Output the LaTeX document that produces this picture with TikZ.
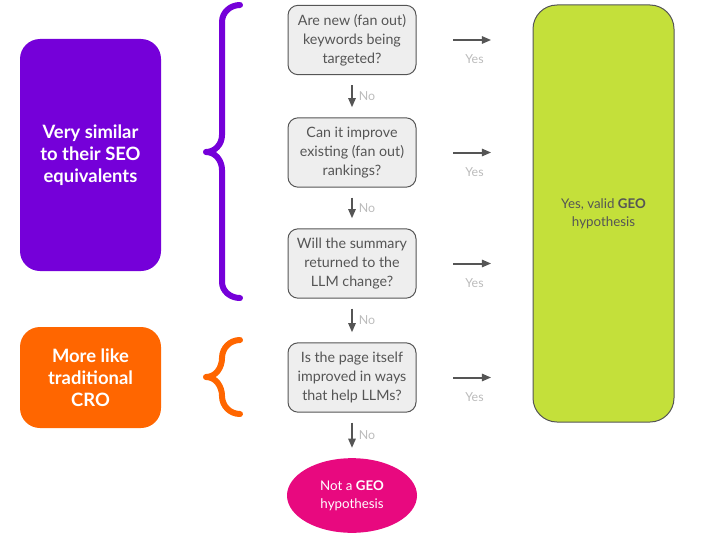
\documentclass[tikz,border=0pt]{standalone}
\usepackage{fontspec}
\setmainfont{Lato}
\usetikzlibrary{shapes.geometric,arrows.meta}

\definecolor{seopurple}{HTML}{7500D9}
\definecolor{croorange}{HTML}{FF6600}
\definecolor{geogreen}{HTML}{C4E03A}
\definecolor{notpink}{HTML}{E8097F}
\definecolor{qfill}{HTML}{EEEEEE}
\definecolor{txtgray}{HTML}{555555}
\definecolor{lblgray}{HTML}{BBBBBB}

\tikzset{
  question/.style={draw=txtgray, fill=qfill, line width=0.75pt, rounded corners=7.5pt,
    minimum width=96pt, minimum height=52pt, align=center, text=txtgray,
    font=\fontsize{10.7}{14.25}\selectfont},
  group/.style={rounded corners=15pt, minimum width=105.75pt, text=white, align=center,
    font=\bfseries\fontsize{13.8}{16.5}\selectfont},
  flow/.style={-{Triangle[length=7pt,width=5.5pt]}, txtgray, line width=1.5pt},
  answer/.style={text=lblgray, font=\fontsize{9.3}{10}\selectfont},
  curly/.style={line width=4.5pt, line cap=round, line join=round},
}

\begin{document}
\begin{tikzpicture}[x=0.75pt, y=-0.75pt]
\useasboundingbox (0,0) rectangle (709,535);

% groups on the left
\node[group, fill=seopurple, minimum height=174pt] (seo) at (90.5,155) {Very similar\\to their SEO\\equivalents};
\node[group, fill=croorange, minimum height=75.75pt] (cro) at (90.5,377.5) {More like\\traditional\\CRO};

\draw[curly, seopurple] (240,5) to[out=180, in=90] (222,22) -- (222,135) to[out=270, in=0] (206,152) to[out=0, in=90] (222,170) -- (222,282) to[out=270, in=180] (240,298);
\draw[curly, croorange] (240,340) to[out=180, in=90] (222,358) to[out=270, in=0] (206,377) to[out=0, in=90] (222,396) to[out=270, in=180] (240,414);

% questions
\node[question] (q1) at (352,40) {Are new (fan out)\\keywords being\\targeted?};
\node[question] (q2) at (352,152.5) {Can it improve\\existing (fan out)\\rankings?};
\node[question] (q3) at (352,263.5) {Will the summary\\returned to the\\LLM change?};
\node[question] (q4) at (352,377.5) {Is the page itself\\improved in ways\\that help LLMs?};

% outcomes
\node[draw=txtgray, fill=geogreen, line width=0.75pt, rounded corners=18pt, minimum width=105.75pt, minimum height=312.75pt,
  align=center, text=txtgray, font=\fontsize{10}{13.5}\selectfont] (geo) at (603.5,213.5) {Yes, valid \textbf{GEO}\\hypothesis};
\node[ellipse, fill=notpink, inner sep=0pt, minimum width=97.5pt, minimum height=56pt, align=center, text=white,
  font=\fontsize{10}{13.5}\selectfont] (notgeo) at (352,495.5) {Not a \textbf{GEO}\\hypothesis};

\draw[flow, shorten <=7.5pt, shorten >=7.5pt] (q1) -- (q2) node[answer, midway, right=1pt] {No};
\draw[flow, shorten <=7.5pt, shorten >=7.5pt] (q2) -- (q3) node[answer, midway, right=1pt] {No};
\draw[flow, shorten <=7.5pt, shorten >=7.5pt] (q3) -- (q4) node[answer, midway, right=1pt] {No};
\draw[flow, shorten <=7.5pt, shorten >=7.5pt] (q4) -- (notgeo) node[answer, midway, right=1pt] {No};

\draw[flow, shorten <=27.5pt, shorten >=31pt] (q1.east) -- (q1.east -| geo.west) node[answer, midway, below=7pt] {Yes};
\draw[flow, shorten <=27.5pt, shorten >=31pt] (q2.east) -- (q2.east -| geo.west) node[answer, midway, below=7pt] {Yes};
\draw[flow, shorten <=27.5pt, shorten >=31pt] (q3.east) -- (q3.east -| geo.west) node[answer, midway, below=7pt] {Yes};
\draw[flow, shorten <=27.5pt, shorten >=31pt] (q4.east) -- (q4.east -| geo.west) node[answer, midway, below=7pt] {Yes};

\end{tikzpicture}
\end{document}
